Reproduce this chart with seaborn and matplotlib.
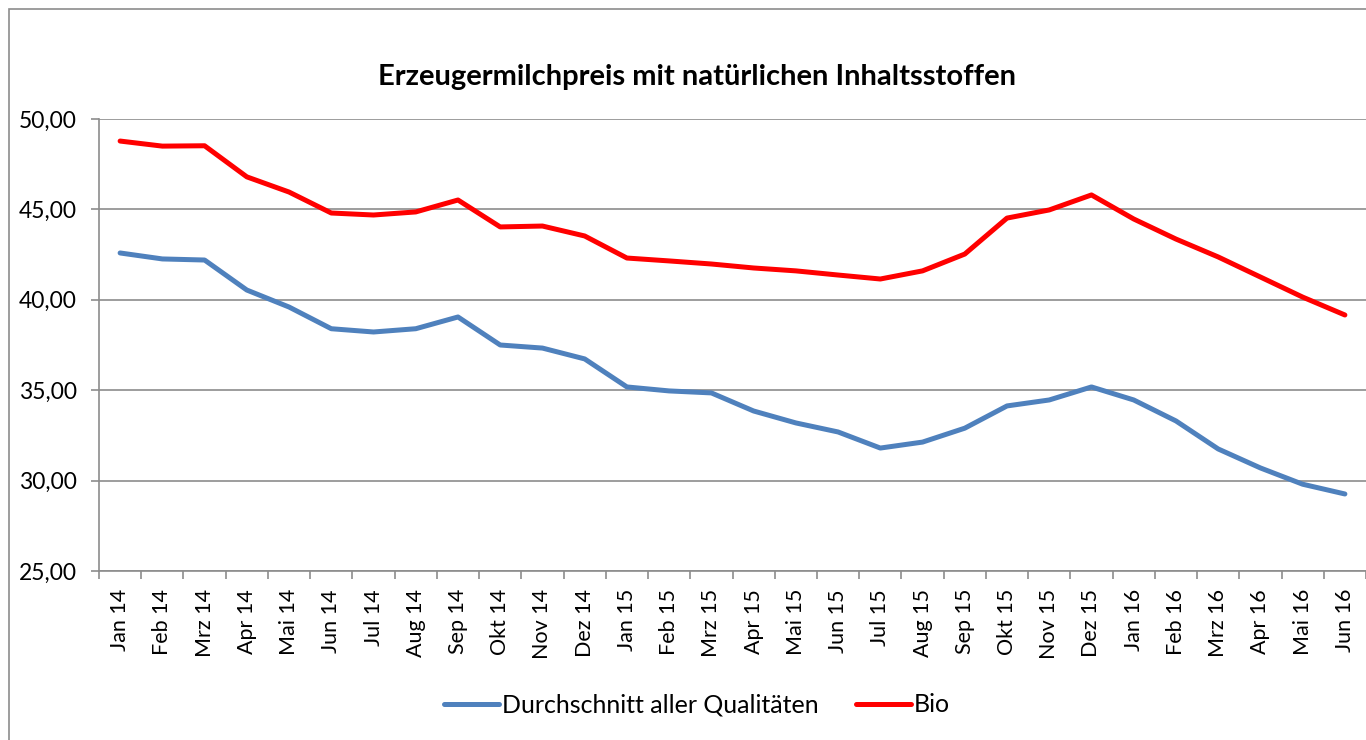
import numpy as np
import pandas as pd
import matplotlib
matplotlib.use("Agg")
import matplotlib.pyplot as plt
import seaborn as sns
from matplotlib.ticker import FixedLocator, FuncFormatter
from matplotlib.patches import Rectangle

monate = ["Jan 14", "Feb 14", "Mrz 14", "Apr 14", "Mai 14", "Jun 14", "Jul 14", "Aug 14",
          "Sep 14", "Okt 14", "Nov 14", "Dez 14", "Jan 15", "Feb 15", "Mrz 15", "Apr 15",
          "Mai 15", "Jun 15", "Jul 15", "Aug 15", "Sep 15", "Okt 15", "Nov 15", "Dez 15",
          "Jan 16", "Feb 16", "Mrz 16", "Apr 16", "Mai 16", "Jun 16"]

durchschnitt = [42.59, 42.26, 42.20, 40.54, 39.60, 38.40, 38.22, 38.40, 39.05, 37.50,
                37.33, 36.73, 35.18, 34.96, 34.85, 33.85, 33.19, 32.69, 31.80, 32.13,
                32.90, 34.13, 34.46, 35.18, 34.46, 33.30, 31.75, 30.70, 29.80, 29.26]

bio = [48.78, 48.50, 48.52, 46.80, 45.96, 44.80, 44.69, 44.86, 45.52, 44.03,
       44.08, 43.53, 42.31, 42.15, 41.98, 41.76, 41.60, 41.37, 41.15, 41.60,
       42.53, 44.52, 44.97, 45.80, 44.47, 43.36, 42.37, 41.26, 40.15, 39.16]

reihen = ["Durchschnitt aller Qualitäten", "Bio"]
farben = ["#4F81BD", "#FF0000"]

df = pd.DataFrame({
    "Monat": monate * 2,
    "Preis": durchschnitt + bio,
    "Reihe": [reihen[0]] * len(monate) + [reihen[1]] * len(monate),
})

sns.set_style("white")
plt.rcParams['font.family'] = ['Lato', 'DejaVu Sans']
plt.rcParams['text.color'] = 'black'
plt.rcParams['xtick.color'] = 'black'
plt.rcParams['ytick.color'] = 'black'

fig = plt.figure(figsize=(13.66, 7.4), dpi=100)
ax = fig.add_axes([99 / 1366, 1 - 571 / 740, 1 - 99 / 1366, (571 - 119) / 740])

sns.lineplot(data=df, x="Monat", y="Preis", hue="Reihe", palette=farben,
             linewidth=3.6, ax=ax, sort=False)

ax.set_xlim(-0.5, len(monate) - 0.5)
ax.set_ylim(25, 50)
ax.set_yticks(np.arange(25, 51, 5))
ax.yaxis.set_major_formatter(FuncFormatter(lambda v, p: f"{v:.2f}".replace(".", ",")))
ax.grid(axis="y", color="#8C8C8C", linewidth=1.2)
ax.grid(axis="x", visible=False)

ax.set_xticks(range(len(monate)))
ax.set_xticklabels(monate, rotation=90, fontsize=15.5)
ax.xaxis.set_minor_locator(FixedLocator(np.arange(-0.5, len(monate), 1)))
ax.tick_params(axis="x", which="major", length=0, pad=13)
ax.tick_params(axis="x", which="minor", length=6, color="#8C8C8C", width=1.2, bottom=True)
ax.tick_params(axis="y", length=6, color="#8C8C8C", width=1.2, labelsize=16.5, left=True, pad=10)

for s in ["top", "right"]:
    ax.spines[s].set_visible(False)
for s in ["left", "bottom"]:
    ax.spines[s].set_color("#8C8C8C")
    ax.spines[s].set_linewidth(1.2)

ax.set_xlabel("")
ax.set_ylabel("")

handles, labels = ax.get_legend_handles_labels()
ax.legend_.remove()
fig.legend(handles, labels, loc="center", bbox_to_anchor=(697 / 1366, 1 - 705 / 740),
           ncol=2, frameon=False, fontsize=18, handlelength=2.2, handletextpad=0.1,
           columnspacing=1.5)

fig.text(697 / 1366, 1 - 77 / 740, "Erzeugermilchpreis mit natürlichen Inhaltsstoffen",
         ha="center", va="center", fontsize=21, fontweight="bold")

fig.patches.append(Rectangle((9 / 1366, -0.05), 1.1, 1.05 - 9 / 740, transform=fig.transFigure,
                             fill=False, edgecolor="#8C8C8C", linewidth=1.2))

fig.savefig("out.png", dpi=100)
